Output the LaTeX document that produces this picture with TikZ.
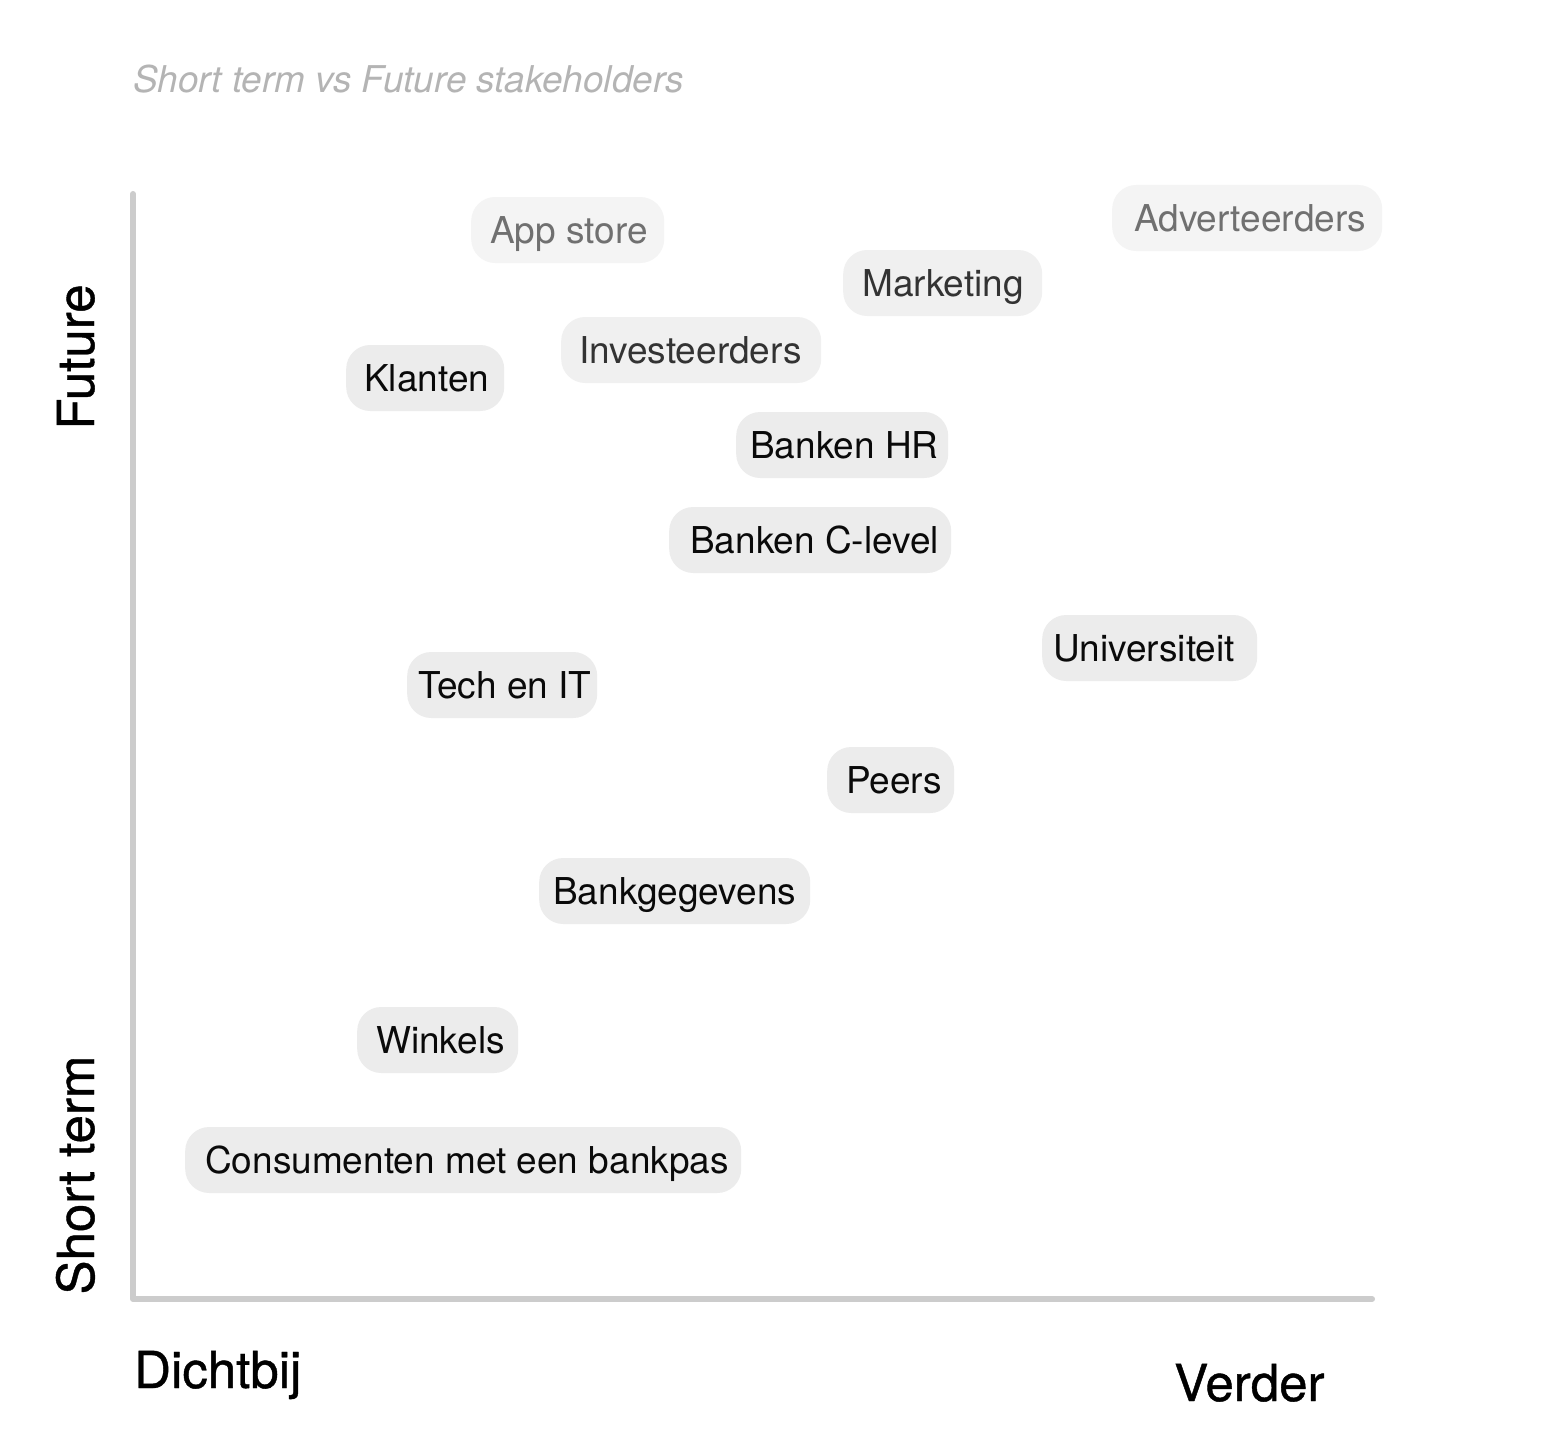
\documentclass[tikz,border=0pt]{standalone}
\usepackage{fontspec}
\setmainfont{TeX Gyre Heros}
\newfontfamily\medfont{TeX Gyre Heros}[FakeBold=0.8]
\definecolor{axisgray}{HTML}{CCCCCC}
\definecolor{titlegray}{HTML}{B4B4B4}
\definecolor{fillA}{HTML}{F4F4F4}
\definecolor{textA}{HTML}{707070}
\definecolor{fillB}{HTML}{F0F0F0}
\definecolor{textB}{HTML}{333333}
\definecolor{fillC}{HTML}{ECECEC}
\definecolor{textC}{HTML}{0A0A0A}
\tikzset{
  pill/.style={shape=rectangle, rounded corners=24pt, draw=none, minimum height=66pt, inner sep=0pt},
  lbl/.style={inner sep=0pt, font=\fontsize{37}{44}\selectfont},
  axislbl/.style={inner sep=0pt, font=\medfont\fontsize{51}{60}\selectfont, text=black},
  axisline/.style={draw=axisgray, line width=6pt, line cap=round, line join=round}
}
% #1 name, #2 left x, #3 right x, #4 centre y, #5 fill, #6 text colour, #7 text offset, #8 text
\newcommand\stk[8]{%
  \node[pill, fill=#5, minimum width={#3-#2}, anchor=west] (#1) at (#2,#4) {};
  \node[lbl, text=#6, anchor=base west] (#1t) at ([xshift=#7pt,yshift=-13.5pt]#1.west) {#8};}
\begin{document}
\begin{tikzpicture}[x=1pt,y=-1pt]
\path[use as bounding box, fill=white] (0,0) rectangle (1554,1434);
% title
\node[inner sep=0pt, anchor=base west, text=titlegray, font=\fontsize{36.9}{44}\selectfont\itshape] (title) at (133,93) {Short term vs Future stakeholders};
% axes
\coordinate (ytop) at (133,194);
\coordinate (origin) at (133,1299);
\coordinate (xend) at (1372,1299);
\draw[axisline] (ytop) -- (origin) -- (xend);
% axis labels
\node[axislbl, rotate=90, anchor=base] (future) at (94,357) {Future};
\node[axislbl, rotate=90, anchor=base] (short) at (94,1175) {Short term};
\node[axislbl, anchor=base west] (dicht) at (134,1388) {Dichtbij};
\node[axislbl, anchor=base west] (verder) at (1174,1401) {Verder};
% stakeholders
\stk{app}{471}{664}{230}{fillA}{textA}{19}{App store}
\stk{adv}{1112}{1382}{218}{fillA}{textA}{22}{Adverteerders}
\stk{mkt}{843}{1042}{283}{fillB}{textB}{19}{Marketing}
\stk{inv}{561}{821}{350}{fillB}{textB}{18}{Investeerders}
\stk{kla}{346}{504}{378}{fillC}{textC}{18}{Klanten}
\stk{bhr}{736}{948}{445}{fillC}{textC}{14}{Banken HR}
\stk{bcl}{669}{951}{540}{fillC}{textC}{21}{Banken C-level}
\stk{uni}{1042}{1257}{648}{fillC}{textC}{11}{Universiteit}
\stk{tech}{407}{597}{685}{fillC}{textC}{11}{Tech en IT}
\stk{peer}{827}{954}{780}{fillC}{textC}{19}{Peers}
\stk{bgg}{539}{810}{891}{fillC}{textC}{14}{Bankgegevens}
\stk{wink}{357}{518}{1040}{fillC}{textC}{19}{Winkels}
\stk{cons}{185}{741}{1160}{fillC}{textC}{20}{Consumenten met een bankpas}
\end{tikzpicture}
\end{document}
